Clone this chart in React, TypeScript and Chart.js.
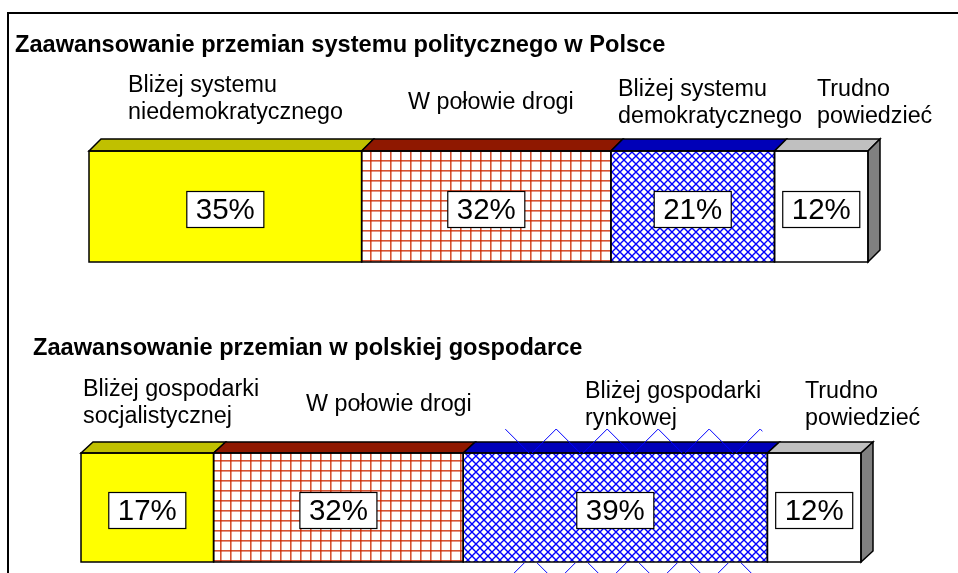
import React, { useEffect, useRef } from 'react';
import { Chart, registerables } from 'chart.js';

Chart.register(...registerables);

// ---------- data ----------
const title1 = 'Zaawansowanie przemian systemu politycznego w Polsce';
const categories1: string[][] = [
  ['Bliżej systemu', 'niedemokratycznego'],
  ['W połowie drogi'],
  ['Bliżej systemu', 'demokratycznego'],
  ['Trudno', 'powiedzieć'],
];
const values1 = [35, 32, 21, 12];

const title2 = 'Zaawansowanie przemian w polskiej gospodarce';
const categories2: string[][] = [
  ['Bliżej gospodarki', 'socjalistycznej'],
  ['W połowie drogi'],
  ['Bliżej gospodarki', 'rynkowej'],
  ['Trudno', 'powiedzieć'],
];
const values2 = [17, 32, 39, 12];

// ---------- styles ----------
const FONT = '"Liberation Sans", Arial, Helvetica, sans-serif';
const TOP_COLORS = ['#c0c000', '#8f1800', '#0000b8', '#c0c0c0'];
const SIDE_COLOR = '#808080';

type Layout = {
  top: number;
  height: number;
  pad: { left: number; right: number; top: number; bottom: number };
  dx: number;
  dy: number;
  titleX: number;
  titleY: number;
  labelX: number[];
  labelY: number[];
  frameTop: boolean;
  zigzag: null | { index: number; insetL: number; insetR: number; above: number; period: number };
};

const layout1: Layout = {
  top: 0,
  height: 300,
  pad: { left: 89, right: 90, top: 151, bottom: 38 },
  dx: 12,
  dy: 12,
  titleX: 15,
  titleY: 45,
  labelX: [128, 408, 618, 817],
  labelY: [86, 103, 90, 90],
  frameTop: true,
  zigzag: null,
};

const layout2: Layout = {
  top: 300,
  height: 273,
  pad: { left: 81, right: 97, top: 153, bottom: 11 },
  dx: 12,
  dy: 11,
  titleX: 33,
  titleY: 48,
  labelX: [83, 306, 585, 805],
  labelY: [90, 105, 92, 92],
  frameTop: false,
  zigzag: { index: 2, insetL: 42, insetR: 5, above: 24, period: 51 },
};

function makeGrid(): CanvasPattern | string {
  const s = 10;
  const c = document.createElement('canvas');
  c.width = s;
  c.height = s;
  const g = c.getContext('2d');
  if (!g) return '#ffffff';
  g.fillStyle = '#ffffff';
  g.fillRect(0, 0, s, s);
  g.fillStyle = 'rgba(205,40,0,0.8)';
  g.fillRect(0, 0, s, 1.6);
  g.fillRect(0, 0, 1.6, s);
  return g.createPattern(c, 'repeat') || '#ffffff';
}

function makeDiamond(): CanvasPattern | string {
  const s = 8;
  const c = document.createElement('canvas');
  c.width = s;
  c.height = s;
  const g = c.getContext('2d');
  if (!g) return '#0000ff';
  g.fillStyle = '#ffffff';
  g.fillRect(0, 0, s, s);
  g.strokeStyle = '#0000ff';
  g.lineWidth = 1.4;
  g.beginPath();
  g.moveTo(-1, -1);
  g.lineTo(s + 1, s + 1);
  g.moveTo(s + 1, -1);
  g.lineTo(-1, s + 1);
  g.stroke();
  return g.createPattern(c, 'repeat') || '#0000ff';
}

function decorPlugin(title: string, cats: string[][], values: number[], L: Layout) {
  return {
    id: 'decor3d',
    afterDatasetsDraw(chart: any) {
      const ctx: CanvasRenderingContext2D = chart.ctx;
      const n = chart.data.datasets.length;
      const rects: { l: number; r: number; t: number; b: number }[] = [];
      for (let i = 0; i < n; i++) {
        const el: any = chart.getDatasetMeta(i).data[0];
        const p = el.getProps(['x', 'y', 'base', 'height'], true);
        rects.push({
          l: Math.min(p.x, p.base),
          r: Math.max(p.x, p.base),
          t: p.y - p.height / 2,
          b: p.y + p.height / 2,
        });
      }
      const { dx, dy } = L;
      ctx.save();
      ctx.lineWidth = 1.5;
      ctx.strokeStyle = '#000000';
      ctx.lineJoin = 'miter';

      // top faces
      rects.forEach((r, i) => {
        ctx.beginPath();
        ctx.moveTo(r.l, r.t);
        ctx.lineTo(r.l + dx, r.t - dy);
        ctx.lineTo(r.r + dx, r.t - dy);
        ctx.lineTo(r.r, r.t);
        ctx.closePath();
        ctx.fillStyle = TOP_COLORS[i];
        ctx.fill();
        ctx.stroke();
      });
      // right side face
      const last = rects[n - 1];
      ctx.beginPath();
      ctx.moveTo(last.r, last.t);
      ctx.lineTo(last.r + dx, last.t - dy);
      ctx.lineTo(last.r + dx, last.b - dy);
      ctx.lineTo(last.r, last.b);
      ctx.closePath();
      ctx.fillStyle = SIDE_COLOR;
      ctx.fill();
      ctx.stroke();
      // front outlines
      rects.forEach((r) => ctx.strokeRect(r.l, r.t, r.r - r.l, r.b - r.t));

      // pattern overflow artefact (large crosshatch)
      if (L.zigzag) {
        const z = L.zigzag;
        const r = rects[z.index];
        const x0 = r.l + z.insetL;
        const x1 = r.r - z.insetR;
        const yTop = r.t - z.above;
        ctx.save();
        ctx.beginPath();
        ctx.rect(x0, yTop, x1 - x0, r.t - yTop);
        ctx.rect(x0, r.b + 1, x1 - x0, L.height - r.b);
        ctx.clip();
        ctx.strokeStyle = '#0000ff';
        ctx.lineWidth = 1;
        ctx.beginPath();
        const span = L.height;
        const kMax = Math.ceil((x1 - x0 + 2 * span) / z.period);
        for (let k = -kMax; k <= kMax; k++) {
          const x = x0 + k * z.period;
          ctx.moveTo(x, yTop);
          ctx.lineTo(x + span, yTop + span);
          ctx.moveTo(x, yTop);
          ctx.lineTo(x - span, yTop + span);
        }
        ctx.stroke();
        ctx.restore();
      }

      // value boxes
      ctx.font = `29.5px ${FONT}`;
      ctx.textAlign = 'center';
      ctx.textBaseline = 'middle';
      rects.forEach((r, i) => {
        const txt = `${values[i]}%`;
        const w = ctx.measureText(txt).width + 18;
        const h = 36;
        const cx = (r.l + r.r) / 2;
        const cy = (r.t + r.b) / 2 + 3;
        ctx.fillStyle = '#ffffff';
        ctx.fillRect(cx - w / 2, cy - h / 2, w, h);
        ctx.lineWidth = 1.2;
        ctx.strokeStyle = '#000000';
        ctx.strokeRect(cx - w / 2, cy - h / 2, w, h);
        ctx.fillStyle = '#000000';
        ctx.fillText(txt, cx, cy + 1);
      });

      // category labels
      ctx.font = `23.3px ${FONT}`;
      ctx.textAlign = 'left';
      ctx.fillStyle = '#000000';
      cats.forEach((lines, i) => {
        lines.forEach((s, j) => ctx.fillText(s, L.labelX[i], L.labelY[i] + j * 27));
      });

      // title
      ctx.font = `bold 23.6px ${FONT}`;
      ctx.fillText(title, L.titleX, L.titleY);

      // frame
      ctx.fillStyle = '#000000';
      if (L.frameTop) {
        ctx.fillRect(7, 12, chart.width - 7, 2);
        ctx.fillRect(7, 12, 2, L.height - 12);
      } else {
        ctx.fillRect(7, 0, 2, L.height);
      }
      ctx.restore();
    },
  };
}

function BarPanel({ title, cats, values, L }: { title: string; cats: string[][]; values: number[]; L: Layout }) {
  const ref = useRef<HTMLCanvasElement>(null);
  useEffect(() => {
    const canvas = ref.current;
    if (!canvas) return;
    const fills = ['#ffff00', makeGrid(), makeDiamond(), '#ffffff'];
    const chart = new Chart(canvas, {
      type: 'bar',
      data: {
        labels: [''],
        datasets: values.map((v, i) => ({
          label: cats[i].join(' '),
          data: [v],
          backgroundColor: fills[i] as any,
          borderWidth: 0,
          barPercentage: 1,
          categoryPercentage: 1,
        })),
      },
      options: {
        indexAxis: 'y',
        responsive: false,
        animation: false,
        events: [],
        layout: { padding: L.pad },
        scales: {
          x: { stacked: true, min: 0, max: 100, display: false },
          y: { stacked: true, display: false },
        },
        plugins: { legend: { display: false }, tooltip: { enabled: false } },
      },
      plugins: [decorPlugin(title, cats, values, L)],
    });
    return () => chart.destroy();
  }, []);
  return (
    <canvas
      ref={ref}
      width={958}
      height={L.height}
      style={{ position: 'absolute', left: 0, top: L.top, width: 958, height: L.height, display: 'block' }}
    />
  );
}

export default function App() {
  return (
    <div
      style={{
        position: 'fixed',
        left: 0,
        top: 0,
        width: 958,
        height: 573,
        overflow: 'hidden',
        background: '#ffffff',
      }}
    >
      <BarPanel title={title1} cats={categories1} values={values1} L={layout1} />
      <BarPanel title={title2} cats={categories2} values={values2} L={layout2} />
    </div>
  );
}
